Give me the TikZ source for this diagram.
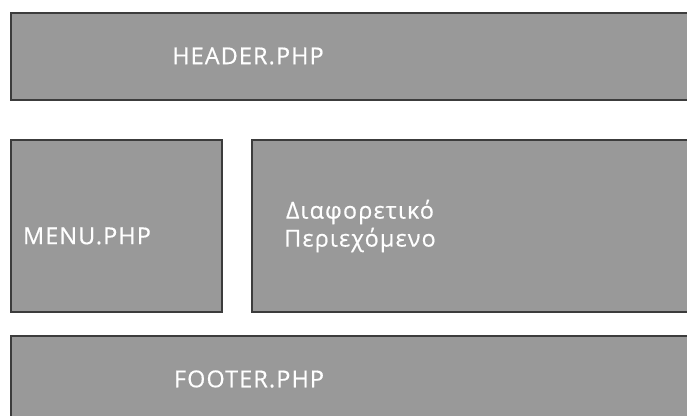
\documentclass[tikz,border=0pt]{standalone}
\usepackage{fontspec}
\setmainfont{Open Sans}[LetterSpace=5,FakeBold=0.5]
\definecolor{panelfill}{HTML}{999999}
\definecolor{panelline}{HTML}{3C3C3C}
\begin{document}
\begin{tikzpicture}[x=0.75pt,y=-0.75pt,
  panel/.style={fill=panelfill,draw=panelline,line width=1.1pt},
  lbl/.style={text=white,font=\fontsize{17.5}{21}\selectfont,align=center,inner sep=0pt}]
\useasboundingbox (0,0) rectangle (687,416);
\begin{scope}
\clip (0,0) rectangle (687,416);
\draw[panel] (11,13) rectangle (700,100);
\draw[panel] (11,140) rectangle (222,312);
\draw[panel] (252,140) rectangle (700,312);
\draw[panel] (11,336) rectangle (700,430);
\end{scope}
\node[lbl] (header) at (248,56) {HEADER.PHP};
\node[lbl] (menu) at (87,236) {MENU.PHP};
\node[lbl] (content) at (360,226) {Διαφορετικό\\Περιεχόμενο};
\node[lbl] (footer) at (249,379) {FOOTER.PHP};
\end{tikzpicture}
\end{document}
